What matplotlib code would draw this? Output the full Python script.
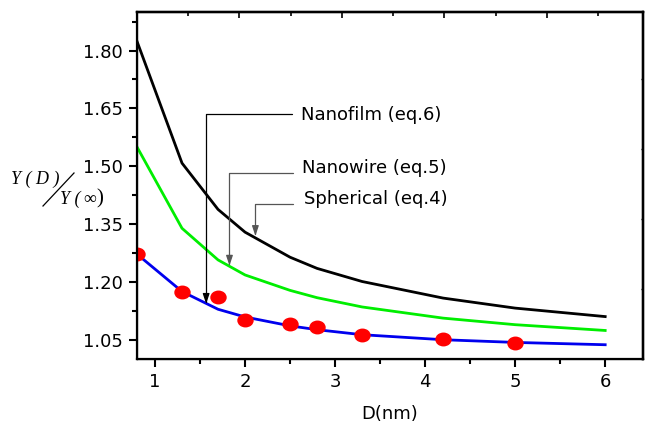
import matplotlib
matplotlib.use("Agg")
import matplotlib.pyplot as plt
from matplotlib.markers import MarkerStyle
from matplotlib.transforms import Affine2D
from matplotlib.lines import Line2D
from matplotlib.ticker import MultipleLocator, NullFormatter

# size D (nm) and the three model curves
D = [0.8, 1.3, 1.7, 2.0, 2.5, 2.8, 3.3, 4.2, 5.0, 6.0]
spherical = [1.824, 1.508, 1.388, 1.329, 1.264, 1.235, 1.201, 1.158, 1.132, 1.110]
nanowire = [1.550, 1.339, 1.257, 1.218, 1.178, 1.159, 1.135, 1.106, 1.089, 1.074]
nanofilm = [1.272, 1.175, 1.129, 1.109, 1.086, 1.076, 1.063, 1.050, 1.043, 1.037]

# measured points (red)
D_exp = [0.8, 1.3, 1.7, 2.0, 2.5, 2.8, 3.3, 4.2, 5.0]
Y_exp = [1.272, 1.173, 1.161, 1.102, 1.091, 1.082, 1.061, 1.052, 1.042]

yticks = [1.05, 1.20, 1.35, 1.50, 1.65, 1.80]
ytick_labels = ["1.05", "1.20", "1.35", "1.50", "1.65", "1.80"]

plt.rcParams['font.family'] = ['DejaVu Sans']

fig = plt.figure(figsize=(6.45, 4.24), dpi=100)
ax = fig.add_axes([137 / 645, 1 - 359 / 424, 506 / 645, 347 / 424])

ax.plot(D, spherical, color='black', lw=2.0, zorder=3)
ax.plot(D, nanowire, color='#00ee00', lw=2.0, zorder=3)
ax.plot(D, nanofilm, color='#0000ee', lw=2.0, zorder=3)

ell = MarkerStyle('o', transform=Affine2D().scale(1.2, 1.0))
ax.plot(D_exp, Y_exp, ls='none', marker=ell, ms=9, color='red', mec='red', zorder=4)

ax.set_xlim(0.8, 6.42)
ax.set_ylim(1.0, 1.9)
ax.set_yticks(yticks)
ax.set_yticklabels(ytick_labels)
ax.xaxis.set_major_locator(MultipleLocator(1))
ax.xaxis.set_minor_locator(MultipleLocator(0.5))
ax.yaxis.set_minor_locator(MultipleLocator(0.075))
ax.tick_params(which='major', direction='out', length=6, width=1.5, labelsize=13, pad=4)
ax.tick_params(which='minor', direction='out', length=3.5, width=1.5)
for s in ax.spines.values():
    s.set_linewidth(1.6)

# Origin-style top/right axes with their own ticks
top = ax.twiny()
top.set_xlim(0, 4.94)
top.xaxis.set_major_locator(MultipleLocator(1))
top.xaxis.set_minor_locator(MultipleLocator(0.5))
top.xaxis.set_major_formatter(NullFormatter())
top.tick_params(which='major', direction='in', length=4, width=1.2)
top.tick_params(which='minor', direction='in', length=3, width=1.2)
right = ax.twinx()
right.set_ylim(0, 4.957)
right.yaxis.set_major_locator(MultipleLocator(1))
right.yaxis.set_major_formatter(NullFormatter())
right.tick_params(which='major', direction='in', length=1.5, width=1.0)
for a in (top, right):
    a.spines['top'].set_linewidth(1.6)
    a.spines['right'].set_linewidth(1.6)

ax.set_xlabel("D(nm)", fontsize=13, labelpad=10)

# labels with elbow arrows
labels = ["Nanofilm (eq.6)", "Nanowire (eq.5)", "Spherical (eq.4)"]
text_xy = [(2.617, 1.632), (2.628, 1.495), (2.651, 1.416)]
start_xy = [(2.518, 1.6345), (2.529, 1.483), (2.529, 1.402)]
tip_xy = [(1.568, 1.143), (1.827, 1.242), (2.115, 1.319)]
arrow_colors = ['black', '#555555', '#555555']
for lab, txy, sxy, pxy, c in zip(labels, text_xy, start_xy, tip_xy, arrow_colors):
    ax.text(txy[0], txy[1], lab, fontsize=13, ha='left', va='center', zorder=5)
    ax.annotate('', xy=pxy, xytext=sxy,
                arrowprops=dict(arrowstyle='-|>,head_length=0.6,head_width=0.2',
                                connectionstyle='angle,angleA=0,angleB=90,rad=0',
                                color=c, lw=0.9, shrinkA=0, shrinkB=0),
                zorder=5)

# y label: Y(D) / Y(inf)
serif = ['Liberation Serif', 'DejaVu Serif']
fig.text(11 / 645, 1 - 179 / 424, "Y ( D )", family=serif, style='italic', fontsize=13,
         ha='left', va='center')
fig.text(60 / 645, 1 - 199 / 424, "Y (", family=serif, style='italic', fontsize=13,
         ha='left', va='center')
fig.text(83 / 645, 1 - 199 / 424, "\u221e", family=serif, fontsize=13, ha='left', va='center')
fig.text(96 / 645, 1 - 199 / 424, ")", family=serif, fontsize=15, ha='left', va='center')
fig.lines.append(Line2D([43 / 645, 74 / 645], [1 - 206 / 424, 1 - 173 / 424],
                        transform=fig.transFigure, color='black', lw=0.9))

fig.savefig("out.png", dpi=100)
